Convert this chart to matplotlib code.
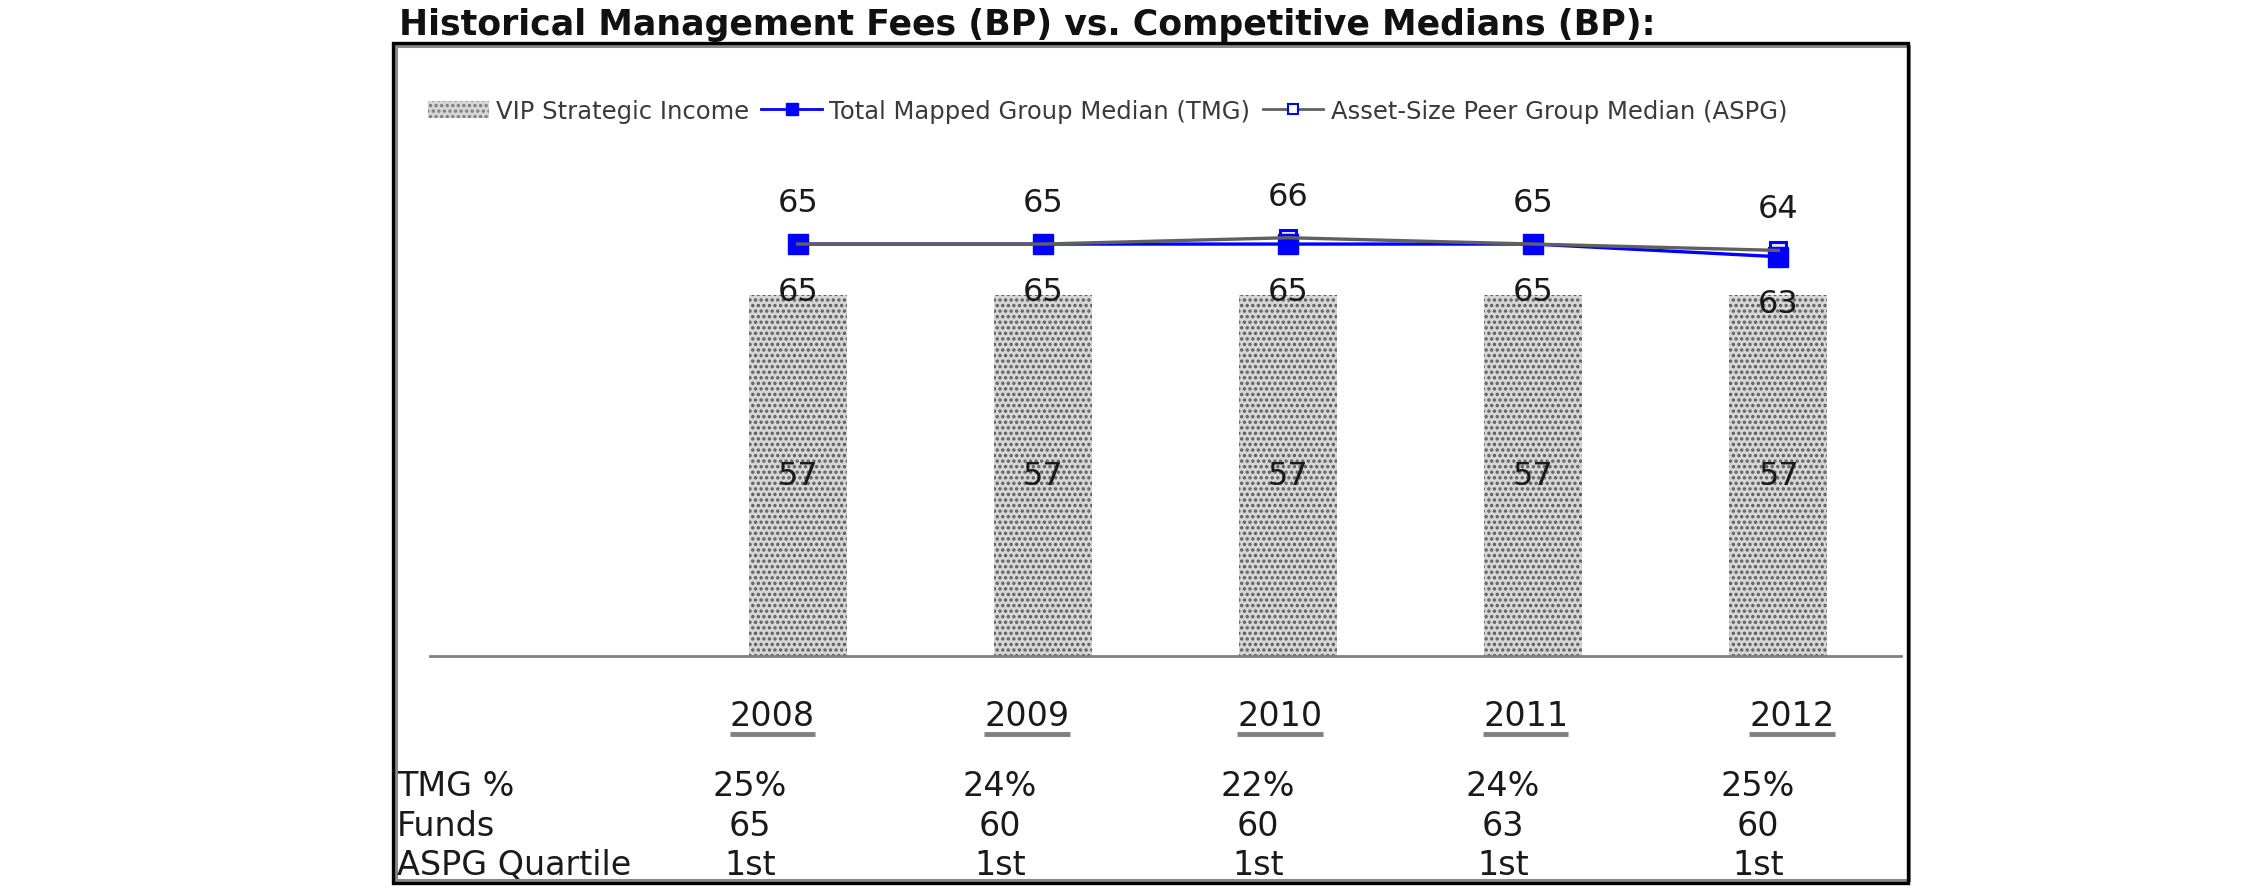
import numpy as np
import matplotlib
matplotlib.use("Agg")
import matplotlib.pyplot as plt
from matplotlib.patches import Rectangle, Patch
from matplotlib.lines import Line2D
import matplotlib.transforms as mtransforms

years = ["2008", "2009", "2010", "2011", "2012"]
vip_fee = [57, 57, 57, 57, 57]
tmg_median = [65, 65, 65, 65, 63]
aspg_median = [65, 65, 66, 65, 64]
tmg_pct = ["25%", "24%", "22%", "24%", "25%"]
funds = ["65", "60", "60", "63", "60"]
aspg_quartile = ["1st", "1st", "1st", "1st", "1st"]
row_labels = ["TMG %", "Funds", "ASPG Quartile"]

W, H = 2250, 895


def fx(px):
    return px / W


def fy(py):
    return 1 - py / H


plt.rcParams["font.family"] = ["DejaVu Sans"]
plt.rcParams["hatch.linewidth"] = 1.6

fig = plt.figure(figsize=(W / 100, H / 100), dpi=100)

# outer frame
fig.patches.append(Rectangle((fx(396), fy(881)), fx(1909) - fx(396), fy(47) - fy(881),
                             transform=fig.transFigure, fill=False, ec="#8a8a8a", lw=2.2))
fig.patches.append(Rectangle((fx(393), fy(884)), fx(1908) - fx(393), fy(44) - fy(884),
                             transform=fig.transFigure, fill=False, ec="black", lw=2.4))

fig.text(fx(399), fy(25), "Historical Management Fees (BP) vs. Competitive Medians (BP):",
         fontsize=25, fontweight="bold", ha="left", va="center", color="#111111")

ax = fig.add_axes([fx(430), fy(657), fx(1901) - fx(430), fy(150) - fy(657)])
x = np.arange(len(years))
ax.set_xlim(-1.5, 4.5)
ax.set_ylim(0, 80)

ax.bar(x, vip_fee, width=0.40, color="#d6d6d6", edgecolor="#5a5a5a", hatch="...", lw=0,
       label="VIP Strategic Income", zorder=1)
# ASPG markers sit under the TMG markers, its line runs over them
ax.plot(x, aspg_median, ls="none", marker="s", ms=11, mfc="#e8e8e8", mec="#0000ff", mew=2.2, zorder=2)
ax.plot(x, tmg_median, color="#0000ff", lw=2.4, marker="s", ms=15, mfc="#0000ff", mec="#0000ff",
        zorder=3, label="Total Mapped Group Median (TMG)")
ax.plot(x, aspg_median, color="#606060", lw=2.4, zorder=4, label="Asset-Size Peer Group Median (ASPG)")

for i in range(len(years)):
    ax.annotate(str(aspg_median[i]), (x[i], aspg_median[i]), xytext=(0, 30), textcoords="offset points",
                ha="center", va="center", fontsize=23, color="#1a1a1a")
    ax.annotate(str(tmg_median[i]), (x[i], tmg_median[i]), xytext=(0, -34), textcoords="offset points",
                ha="center", va="center", fontsize=23, color="#1a1a1a")
    ax.text(x[i], vip_fee[i] / 2, str(vip_fee[i]), ha="center", va="center", fontsize=23,
            color="#1a1a1a", zorder=5)

for s in ["top", "left", "right"]:
    ax.spines[s].set_visible(False)
ax.spines["bottom"].set_color("#808080")
ax.spines["bottom"].set_linewidth(2)
ax.set_xticks([])
ax.set_yticks([])
ax.patch.set_alpha(0)

# year labels and table below the axis
blend = mtransforms.blended_transform_factory(ax.transData, fig.transFigure)
year_shift = [-0.105, -0.065, -0.033, -0.03, 0.055]
table_shift = [-0.195, -0.175, -0.123, -0.123, -0.083]
year_texts = []
for i, yr in enumerate(years):
    t = fig.text(x[i] + year_shift[i], fy(717), yr, transform=blend, ha="center", va="center",
                 fontsize=24, color="#1a1a1a")
    year_texts.append(t)

row_y = [787, 827, 866]
for r, (lab, vals) in enumerate(zip(row_labels, [tmg_pct, funds, aspg_quartile])):
    fig.text(fx(397), fy(row_y[r]), lab, ha="left", va="center", fontsize=24, color="#1a1a1a")
    for i, v in enumerate(vals):
        fig.text(x[i] + table_shift[i], fy(row_y[r]), v, transform=blend, ha="center", va="center",
                 fontsize=24, color="#1a1a1a")

handles = [Patch(facecolor="#d6d6d6", edgecolor="#7a7a7a", hatch="...", lw=0),
           Line2D([], [], color="#0000ff", lw=2, marker="s", ms=8, mfc="#0000ff", mec="#0000ff"),
           Line2D([], [], color="#606060", lw=2, marker="s", ms=7, mfc="white", mec="#0000ff", mew=1.5)]
labels = ["VIP Strategic Income", "Total Mapped Group Median (TMG)", "Asset-Size Peer Group Median (ASPG)"]
leg = fig.legend(handles, labels, loc="center left", bbox_to_anchor=(fx(428), fy(112)), ncol=3,
                 frameon=False, fontsize=17.5, handlelength=2.5, columnspacing=0.5, handletextpad=0.3,
                 borderaxespad=0, borderpad=0)
for t in leg.get_texts():
    t.set_color("#3a3a3a")

# underline the year labels
fig.canvas.draw()
renderer = fig.canvas.get_renderer()
for t in year_texts:
    bb = t.get_window_extent(renderer)
    fig.add_artist(Line2D([bb.x0 / W, bb.x1 / W], [fy(735), fy(735)], transform=fig.transFigure,
                          color="#808080", lw=3.5, solid_capstyle="butt"))

fig.savefig("out.png", dpi=100)
